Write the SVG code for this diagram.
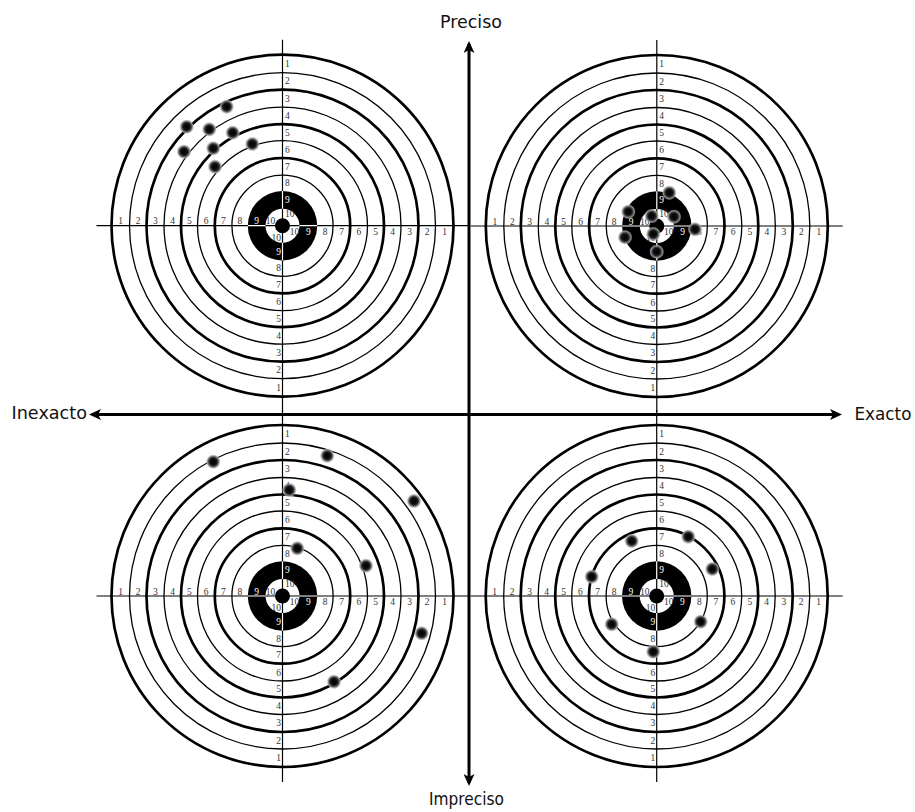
<svg xmlns="http://www.w3.org/2000/svg" xmlns:xlink="http://www.w3.org/1999/xlink" width="915" height="812" viewBox="0 0 915 812">
<style>
.rk{fill:none;stroke:#000;stroke-width:2.7}
.rn{fill:none;stroke:#000;stroke-width:1.3}
.cr{stroke:#000;stroke-width:1.2}
.cw{stroke:#fff;stroke-width:1.2}
.n{font-family:"Liberation Serif","Times New Roman",serif;font-size:9.5px;fill:#333}
.l text{text-anchor:middle}
.r text{text-anchor:middle}
.t text{text-anchor:start}
.b text{text-anchor:end}
.w{fill:#fff}
.axis{stroke:#000;stroke-width:3;fill:none}
.lbl{font-family:"DejaVu Sans",Verdana,sans-serif;font-size:18px;fill:#111}
</style>
<defs>
<radialGradient id="hole">
<stop offset="0" stop-color="#000"/>
<stop offset="0.45" stop-color="#111"/>
<stop offset="0.62" stop-color="#444"/>
<stop offset="0.8" stop-color="#999" stop-opacity="0.9"/>
<stop offset="1" stop-color="#bbb" stop-opacity="0"/>
</radialGradient>
<marker id="arrow" viewBox="0 0 12 11" refX="9" refY="5.5" markerWidth="12" markerHeight="11" markerUnits="userSpaceOnUse" orient="auto-start-reverse">
<path d="M0,0 L12,5.5 L0,11 L3,5.5 z" fill="#000"/>
</marker>
<g id="face">
<circle r="171" class="rk"/>
<circle r="153" class="rn"/>
<circle r="136" class="rk"/>
<circle r="118.5" class="rn"/>
<circle r="101.5" class="rk"/>
<circle r="85" class="rn"/>
<circle r="67.7" class="rk"/>
<circle r="50.6" class="rn"/>
<line x1="-186" y1="0" x2="186" y2="0" class="cr"/>
<line x1="0" y1="-186" x2="0" y2="186" class="cr"/>
<circle r="34.7" fill="#000"/>
<circle r="17" fill="#fff"/>
<line x1="-34.7" y1="0" x2="34.7" y2="0" class="cw"/>
<line x1="0" y1="-34.7" x2="0" y2="34.7" class="cw"/>
<line x1="-17" y1="0" x2="17" y2="0" class="cr"/>
<line x1="0" y1="-17" x2="0" y2="17" class="cr"/>
<circle r="7.5" fill="#000"/>
</g>
</defs>
<rect width="915" height="812" fill="#fff"/>

<g id="target-top-left">
<g transform="translate(282.5,225.7)">
<use xlink:href="#face" href="#face"/>
<g class="n">
<g class="l"><text x="-162" y="-1.5">1</text><text x="-144.5" y="-1.5">2</text><text x="-127.2" y="-1.5">3</text><text x="-110" y="-1.5">4</text><text x="-93.2" y="-1.5">5</text><text x="-76.3" y="-1.5">6</text><text x="-59.1" y="-1.5">7</text><text x="-42.6" y="-1.5">8</text><text x="-25.8" y="-1.5" class="w">9</text><text x="-12" y="-1.5">10</text></g>
<g class="r"><text x="12" y="9">10</text><text x="25.8" y="9" class="w">9</text><text x="42.6" y="9">8</text><text x="59.1" y="9">7</text><text x="76.3" y="9">6</text><text x="93.2" y="9">5</text><text x="110" y="9">4</text><text x="127.2" y="9">3</text><text x="144.5" y="9">2</text><text x="162" y="9">1</text></g>
<g class="t"><text x="2.5" y="-158.8">1</text><text x="2.5" y="-141.3">2</text><text x="2.5" y="-124">3</text><text x="2.5" y="-106.8">4</text><text x="2.5" y="-90">5</text><text x="2.5" y="-73.1">6</text><text x="2.5" y="-55.9">7</text><text x="2.5" y="-39.4">8</text><text x="2.5" y="-22.6" class="w">9</text><text x="2.5" y="-8.8">10</text></g>
<g class="b"><text x="-1.5" y="15.2">10</text><text x="-1.5" y="29" class="w">9</text><text x="-1.5" y="45.8">8</text><text x="-1.5" y="62.3">7</text><text x="-1.5" y="79.5">6</text><text x="-1.5" y="96.4">5</text><text x="-1.5" y="113.2">4</text><text x="-1.5" y="130.4">3</text><text x="-1.5" y="147.7">2</text><text x="-1.5" y="165.2">1</text></g>
</g>
</g>
<g fill="url(#hole)">
<circle cx="226.7" cy="106.7" r="7.5"/><circle cx="186.7" cy="126.7" r="7.5"/><circle cx="209.3" cy="129.3" r="7.5"/><circle cx="232.7" cy="132.7" r="7.5"/><circle cx="252.3" cy="144" r="7.5"/><circle cx="184" cy="151.7" r="7.5"/><circle cx="213.3" cy="148.3" r="7.5"/><circle cx="215" cy="166.7" r="7.5"/>
</g>
</g>

<g id="target-top-right">
<g transform="translate(656.8,226)">
<use xlink:href="#face" href="#face"/>
<g class="n">
<g class="l"><text x="-162" y="-1.5">1</text><text x="-144.5" y="-1.5">2</text><text x="-127.2" y="-1.5">3</text><text x="-110" y="-1.5">4</text><text x="-93.2" y="-1.5">5</text><text x="-76.3" y="-1.5">6</text><text x="-59.1" y="-1.5">7</text><text x="-42.6" y="-1.5">8</text><text x="-25.8" y="-1.5" class="w">9</text><text x="-12" y="-1.5">10</text></g>
<g class="r"><text x="12" y="9">10</text><text x="25.8" y="9" class="w">9</text><text x="42.6" y="9">8</text><text x="59.1" y="9">7</text><text x="76.3" y="9">6</text><text x="93.2" y="9">5</text><text x="110" y="9">4</text><text x="127.2" y="9">3</text><text x="144.5" y="9">2</text><text x="162" y="9">1</text></g>
<g class="t"><text x="2.5" y="-158.8">1</text><text x="2.5" y="-141.3">2</text><text x="2.5" y="-124">3</text><text x="2.5" y="-106.8">4</text><text x="2.5" y="-90">5</text><text x="2.5" y="-73.1">6</text><text x="2.5" y="-55.9">7</text><text x="2.5" y="-39.4">8</text><text x="2.5" y="-22.6" class="w">9</text><text x="2.5" y="-8.8">10</text></g>
<g class="b"><text x="-1.5" y="15.2">10</text><text x="-1.5" y="29" class="w">9</text><text x="-1.5" y="45.8">8</text><text x="-1.5" y="62.3">7</text><text x="-1.5" y="79.5">6</text><text x="-1.5" y="96.4">5</text><text x="-1.5" y="113.2">4</text><text x="-1.5" y="130.4">3</text><text x="-1.5" y="147.7">2</text><text x="-1.5" y="165.2">1</text></g>
</g>
</g>
<g fill="url(#hole)">
<circle cx="669.3" cy="192.7" r="7.5"/><circle cx="628.3" cy="211.7" r="7.5"/><circle cx="651.7" cy="216" r="7.5"/><circle cx="674" cy="216.7" r="7.5"/><circle cx="695" cy="229.3" r="7.5"/><circle cx="625" cy="237.3" r="7.5"/><circle cx="653.3" cy="234" r="7.5"/><circle cx="656.7" cy="251.7" r="7.5"/>
</g>
</g>

<g id="target-bottom-left">
<g transform="translate(282.5,596)">
<use xlink:href="#face" href="#face"/>
<g class="n">
<g class="l"><text x="-162" y="-1.5">1</text><text x="-144.5" y="-1.5">2</text><text x="-127.2" y="-1.5">3</text><text x="-110" y="-1.5">4</text><text x="-93.2" y="-1.5">5</text><text x="-76.3" y="-1.5">6</text><text x="-59.1" y="-1.5">7</text><text x="-42.6" y="-1.5">8</text><text x="-25.8" y="-1.5" class="w">9</text><text x="-12" y="-1.5">10</text></g>
<g class="r"><text x="12" y="9">10</text><text x="25.8" y="9" class="w">9</text><text x="42.6" y="9">8</text><text x="59.1" y="9">7</text><text x="76.3" y="9">6</text><text x="93.2" y="9">5</text><text x="110" y="9">4</text><text x="127.2" y="9">3</text><text x="144.5" y="9">2</text><text x="162" y="9">1</text></g>
<g class="t"><text x="2.5" y="-158.8">1</text><text x="2.5" y="-141.3">2</text><text x="2.5" y="-124">3</text><text x="2.5" y="-106.8">4</text><text x="2.5" y="-90">5</text><text x="2.5" y="-73.1">6</text><text x="2.5" y="-55.9">7</text><text x="2.5" y="-39.4">8</text><text x="2.5" y="-22.6" class="w">9</text><text x="2.5" y="-8.8">10</text></g>
<g class="b"><text x="-1.5" y="15.2">10</text><text x="-1.5" y="29" class="w">9</text><text x="-1.5" y="45.8">8</text><text x="-1.5" y="62.3">7</text><text x="-1.5" y="79.5">6</text><text x="-1.5" y="96.4">5</text><text x="-1.5" y="113.2">4</text><text x="-1.5" y="130.4">3</text><text x="-1.5" y="147.7">2</text><text x="-1.5" y="165.2">1</text></g>
</g>
</g>
<g fill="url(#hole)">
<circle cx="213.3" cy="461.7" r="7.5"/><circle cx="327.3" cy="455.7" r="7.5"/><circle cx="289.3" cy="490" r="7.5"/><circle cx="414" cy="501" r="7.5"/><circle cx="297.3" cy="548.3" r="7.5"/><circle cx="366" cy="565.7" r="7.5"/><circle cx="421.7" cy="633.3" r="7.5"/><circle cx="334" cy="681.7" r="7.5"/>
</g>
</g>

<g id="target-bottom-right">
<g transform="translate(656.7,596)">
<use xlink:href="#face" href="#face"/>
<g class="n">
<g class="l"><text x="-162" y="-1.5">1</text><text x="-144.5" y="-1.5">2</text><text x="-127.2" y="-1.5">3</text><text x="-110" y="-1.5">4</text><text x="-93.2" y="-1.5">5</text><text x="-76.3" y="-1.5">6</text><text x="-59.1" y="-1.5">7</text><text x="-42.6" y="-1.5">8</text><text x="-25.8" y="-1.5" class="w">9</text><text x="-12" y="-1.5">10</text></g>
<g class="r"><text x="12" y="9">10</text><text x="25.8" y="9" class="w">9</text><text x="42.6" y="9">8</text><text x="59.1" y="9">7</text><text x="76.3" y="9">6</text><text x="93.2" y="9">5</text><text x="110" y="9">4</text><text x="127.2" y="9">3</text><text x="144.5" y="9">2</text><text x="162" y="9">1</text></g>
<g class="t"><text x="2.5" y="-158.8">1</text><text x="2.5" y="-141.3">2</text><text x="2.5" y="-124">3</text><text x="2.5" y="-106.8">4</text><text x="2.5" y="-90">5</text><text x="2.5" y="-73.1">6</text><text x="2.5" y="-55.9">7</text><text x="2.5" y="-39.4">8</text><text x="2.5" y="-22.6" class="w">9</text><text x="2.5" y="-8.8">10</text></g>
<g class="b"><text x="-1.5" y="15.2">10</text><text x="-1.5" y="29" class="w">9</text><text x="-1.5" y="45.8">8</text><text x="-1.5" y="62.3">7</text><text x="-1.5" y="79.5">6</text><text x="-1.5" y="96.4">5</text><text x="-1.5" y="113.2">4</text><text x="-1.5" y="130.4">3</text><text x="-1.5" y="147.7">2</text><text x="-1.5" y="165.2">1</text></g>
</g>
</g>
<g fill="url(#hole)">
<circle cx="631.7" cy="541" r="7.5"/><circle cx="688.3" cy="536.7" r="7.5"/><circle cx="712.3" cy="569" r="7.5"/><circle cx="591.7" cy="576.7" r="7.5"/><circle cx="611.7" cy="624.3" r="7.5"/><circle cx="700.7" cy="621.7" r="7.5"/><circle cx="653.3" cy="651.7" r="7.5"/>
</g>
</g>

<g id="connectors">
<line class="axis" x1="92" y1="414.5" x2="839" y2="414.5" marker-start="url(#arrow)" marker-end="url(#arrow)"/>
<line class="axis" x1="469" y1="44" x2="469" y2="783" marker-start="url(#arrow)" marker-end="url(#arrow)"/>
</g>

<g id="labels" class="lbl">
<text x="440" y="28" textLength="62" lengthAdjust="spacingAndGlyphs">Preciso</text>
<text x="429" y="805" textLength="75" lengthAdjust="spacingAndGlyphs">Impreciso</text>
<text x="11.5" y="419" textLength="75.5" lengthAdjust="spacingAndGlyphs">Inexacto</text>
<text x="854.5" y="419.5" textLength="57" lengthAdjust="spacingAndGlyphs">Exacto</text>
</g>
</svg>
